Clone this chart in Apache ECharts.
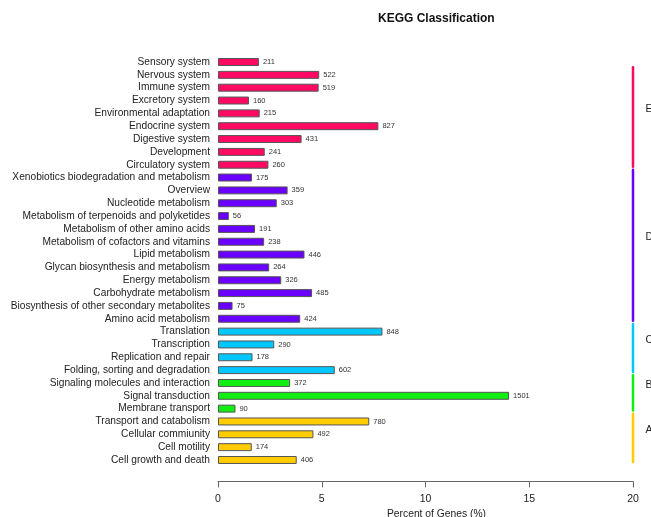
<!DOCTYPE html>
<html>
<head>
<meta charset="utf-8">
<script src="https://cdn.jsdelivr.net/npm/echarts@6/dist/echarts.min.js"></script>
<style>
  html, body { margin: 0; padding: 0; background: #fff; }
  #chart { width: 651px; height: 517px; }
</style>
</head>
<body>
<div id="chart"></div>
<script>
// KEGG pathway categories, top to bottom
const categories = [
  'Sensory system', 'Nervous system', 'Immune system', 'Excretory system',
  'Environmental adaptation', 'Endocrine system', 'Digestive system',
  'Development', 'Circulatory system',
  'Xenobiotics biodegradation and metabolism', 'Overview', 'Nucleotide metabolism',
  'Metabolism of terpenoids and polyketides', 'Metabolism of other amino acids',
  'Metabolism of cofactors and vitamins', 'Lipid metabolism',
  'Glycan biosynthesis and metabolism', 'Energy metabolism',
  'Carbohydrate metabolism', 'Biosynthesis of other secondary metabolites',
  'Amino acid metabolism',
  'Translation', 'Transcription', 'Replication and repair',
  'Folding, sorting and degradation',
  'Signaling molecules and interaction', 'Signal transduction', 'Membrane transport',
  'Transport and catabolism', 'Cellular commiunity', 'Cell motility',
  'Cell growth and death'
];

// Number of genes annotated to each category
const geneCounts = [
  211, 522, 519, 160, 215, 827, 431, 241, 260,
  175, 359, 303, 56, 191, 238, 446, 264, 326, 485, 75, 424,
  848, 290, 178, 602,
  372, 1501, 90,
  780, 492, 174, 406
];

// Total annotated genes used as the percentage base
const annotatedGenes = 10700;

// Top-level KEGG groups, in drawing order, with how many categories each holds
const groupLetters = ['E', 'D', 'C', 'B', 'A'];
const groupSizes = [9, 12, 4, 3, 4];
const groupColors = ['#ff0a63', '#6a00ff', '#00c8ff', '#11ee11', '#ffcc00'];

const xTicks = [0, 5, 10, 15, 20];

// Index of each category's group
const groupIndexOf = [];
groupSizes.forEach((n, g) => { for (let i = 0; i < n; i++) groupIndexOf.push(g); });

// First and last category index of each group
const groupSpans = [];
let cursor = 0;
groupSizes.forEach((n, g) => {
  groupSpans.push([cursor, cursor + n - 1, g]);
  cursor += n;
});

const percentData = geneCounts.map((c, i) => ({
  value: c / annotatedGenes * 100,
  itemStyle: { color: groupColors[groupIndexOf[i]] }
}));

const FONT = '"Liberation Sans", Arial, Helvetica, sans-serif';

const chart = echarts.init(document.getElementById('chart'), null, { renderer: 'canvas' });

chart.setOption({
  animation: false,
  backgroundColor: '#ffffff',
  title: {
    text: 'KEGG Classification',
    left: 378,
    top: 13,
    padding: 0,
    textStyle: { fontFamily: FONT, fontSize: 12, fontWeight: 'bold', color: '#111' }
  },
  grid: {
    left: 218, right: 18, top: 55.6, bottom: 50.6,
    containLabel: false,
    outerBoundsMode: 'none'
  },
  xAxis: {
    type: 'value',
    min: xTicks[0],
    max: xTicks[xTicks.length - 1],
    interval: xTicks[1] - xTicks[0],
    offset: 15,
    name: 'Percent of Genes (%)',
    nameLocation: 'middle',
    nameGap: 27,
    nameTextStyle: { fontFamily: FONT, fontSize: 10.3, color: '#222', padding: [0, 0, 0, 22] },
    axisLine: { show: true, lineStyle: { color: '#666', width: 1 } },
    axisTick: { show: true, length: 6, lineStyle: { color: '#666' } },
    axisLabel: { fontFamily: FONT, fontSize: 10.5, color: '#222', margin: 12 },
    splitLine: { show: false }
  },
  yAxis: {
    type: 'category',
    data: categories,
    inverse: true,
    axisLine: { show: false },
    axisTick: { show: false },
    axisLabel: { fontFamily: FONT, fontSize: 10.2, color: '#222', margin: 8, interval: 0 }
  },
  series: [
    {
      type: 'bar',
      data: percentData,
      barCategoryGap: '38%',
      itemStyle: { borderColor: '#555', borderWidth: 1 },
      label: {
        show: true,
        position: 'right',
        distance: 4,
        fontFamily: FONT,
        fontSize: 7.5,
        color: '#333',
        formatter: p => String(geneCounts[p.dataIndex])
      }
    },
    {
      // Group brackets and letters at the right edge of the plot
      type: 'custom',
      clip: false,
      silent: true,
      data: groupSpans,
      encode: { y: 0 },
      renderItem: (params, api) => {
        const first = api.value(0);
        const last = api.value(1);
        const g = api.value(2);
        const band = api.size([0, 1])[1];
        const xEnd = api.coord([xTicks[xTicks.length - 1], 0])[0];
        const topRow = api.coord([0, 0])[1];
        // lines are clipped to the plot region, which starts a little below the first row
        const clipTop = topRow + 0.4 * band;
        const y0 = Math.max(api.coord([0, first])[1] - 0.6 * band, clipTop);
        const y1 = api.coord([0, last])[1] + 0.15 * band;
        const mid = (api.coord([0, first])[1] + api.coord([0, last])[1]) / 2 - 0.85 * band;
        const midE = g === 0 ? (y0 + y1) / 2 - 8 : mid;
        return {
          type: 'group',
          children: [
            {
              type: 'line',
              shape: { x1: xEnd, y1: y0, x2: xEnd, y2: y1 },
              style: { stroke: groupColors[g], lineWidth: 2.5, lineCap: 'round' }
            },
            {
              type: 'text',
              style: {
                x: xEnd + 12.5, y: midE,
                text: groupLetters[g],
                fill: '#222',
                font: '10.5px ' + FONT,
                textAlign: 'left',
                textVerticalAlign: 'middle'
              }
            }
          ]
        };
      }
    }
  ]
});
</script>
</body>
</html>
